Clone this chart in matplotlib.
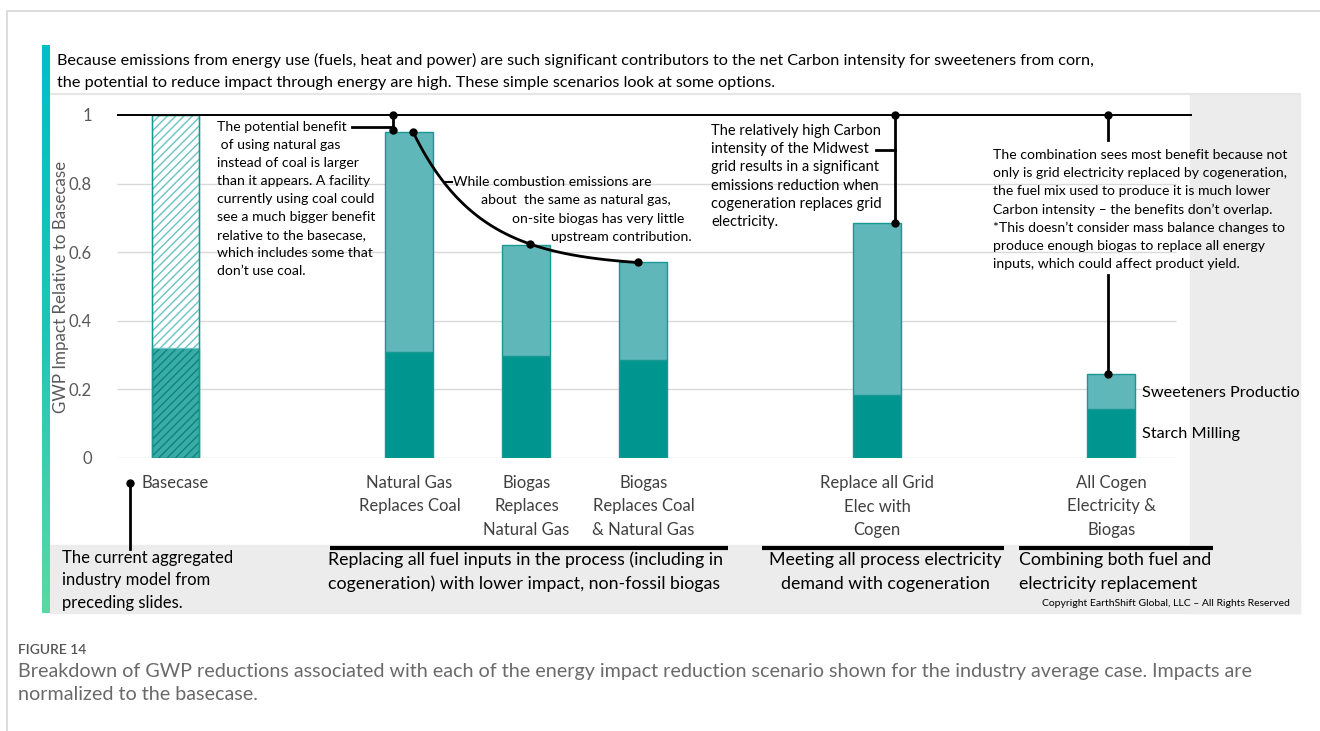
import numpy as np
import matplotlib
matplotlib.use("Agg")
import matplotlib.pyplot as plt
from matplotlib.patches import Rectangle
from matplotlib.lines import Line2D
from matplotlib.transforms import blended_transform_factory

plt.rcParams['font.family'] = ['Lato', 'DejaVu Sans']
plt.rcParams['hatch.linewidth'] = 1.0

# data: GWP impact relative to the basecase
scenarios = ["Basecase",
             "Natural Gas\nReplaces Coal",
             "Biogas\nReplaces\nNatural Gas",
             "Biogas\nReplaces Coal\n& Natural Gas",
             "Replace all Grid\nElec with\nCogen",
             "All Cogen\nElectricity &\nBiogas"]
positions = [0, 2, 3, 4, 6, 8]
starch_milling = [0.32, 0.31, 0.297, 0.286, 0.184, 0.142]
sweeteners_prod = [0.68, 0.641, 0.324, 0.284, 0.50, 0.103]
series_names = ["Starch Milling", "Sweeteners Productio"]
yticks = [0, 0.2, 0.4, 0.6, 0.8, 1]
ytick_labels = ["0", "0.2", "0.4", "0.6", "0.8", "1"]

header = ["Because emissions from energy use (fuels, heat and power) are such significant contributors to the net Carbon intensity for sweeteners from corn,",
          "the potential to reduce impact through energy are high. These simple scenarios look at some options."]
note_ng = ["The potential benefit", " of using natural gas", "instead of coal is larger", "than it appears. A facility",
           "currently using coal could", "see a much bigger benefit", "relative to the basecase,",
           "which includes some that", "don\u2019t use coal."]
note_bio = ["While combustion emissions are", "about  the same as natural gas,",
            "on-site biogas has very little", "upstream contribution."]
note_grid = ["The relatively high Carbon", "intensity of the Midwest", "grid results in a significant",
             "emissions reduction when", "cogeneration replaces grid", "electricity."]
note_comb = ["The combination sees most benefit because not", "only is grid electricity replaced by cogeneration,",
             "the fuel mix used to produce it is much lower", "Carbon intensity \u2013 the benefits don\u2019t overlap.",
             "*This doesn\u2019t consider mass balance changes to", "produce enough biogas to replace all energy",
             "inputs, which could affect product yield."]
group_text = [["The current aggregated", "industry model from", "preceding slides."],
              ["Replacing all fuel inputs in the process (including in", "cogeneration) with lower impact, non-fossil biogas"],
              ["Meeting all process electricity", "demand with cogeneration"],
              ["Combining both fuel and", "electricity replacement"]]

totals = [a + b for a, b in zip(starch_milling, sweeteners_prod)]

W, H = 1320, 731
fig = plt.figure(figsize=(W / 100, H / 100), dpi=100)


def fx(x):
    return x / W


def fy(y):
    return 1 - y / H


def block(lines, x, y0, dy, **kw):
    for i, s in enumerate(lines):
        fig.text(fx(x), fy(y0 + i * dy), s, va='center', **kw)


# page frame and slide background
fig.add_artist(Line2D([fx(7), fx(7), fx(1320)], [fy(731), fy(11), fy(11)], color='#D5D5D5', lw=1.2))
fig.add_artist(Rectangle((fx(1190), fy(613)), fx(110), (613 - 95) / H, color='#ECECEC', zorder=-5))
fig.add_artist(Rectangle((fx(50), fy(613)), fx(1250), (613 - 545) / H, color='#ECECEC', zorder=-5))
fig.add_artist(Line2D([fx(50), fx(1300)], [fy(94), fy(94)], color='#E6E6E6', lw=1.5, zorder=-4))

# teal gradient strip
gax = fig.add_axes([fx(42), fy(613), fx(8), (613 - 45) / H])
grad = np.linspace(0, 1, 256).reshape(-1, 1)
cmap = matplotlib.colors.LinearSegmentedColormap.from_list('strip', ['#00BFC8', '#1CC6B8', '#5DD8A4'])
gax.imshow(grad, aspect='auto', cmap=cmap)
gax.axis('off')

block(header, 57, 60, 23, fontsize=11.7, color='black')

# main chart
ax = fig.add_axes([fx(117), fy(458), fx(1192) - fx(117), (458 - 115) / H])
ax.patch.set_alpha(0)
ax.set_xlim(-0.5, 8.69)
ax.set_ylim(0, 1)
for s in ax.spines.values():
    s.set_visible(False)
ax.set_xticks([])
ax.set_yticks(yticks, ytick_labels)
ax.tick_params(axis='y', length=0, pad=18, labelsize=12, labelcolor='#595959')
ax.set_ylabel("GWP Impact Relative to Basecase", fontsize=12.2, color='#595959')
ax.yaxis.set_label_coords((69 - 117) / 1075, 0.5)

for y in yticks[:-1]:
    ax.hlines(y, -0.5, 8.55, color='#D9D9D9', lw=1, zorder=0)
ax.hlines(1, -0.5, 8.69, color='black', lw=1.4, zorder=3, clip_on=False)

light = '#60B7B9'
dark = '#009690'
edge = '#179893'
width = 0.41
# basecase hatched
ax.bar(positions[0], starch_milling[0], width, facecolor='#3AABA6', edgecolor='#0A857F',
       hatch='////', lw=1, zorder=2)
ax.bar(positions[0], sweeteners_prod[0], width, bottom=starch_milling[0], facecolor='white',
       edgecolor='#6CC2C2', hatch='////', lw=1, zorder=2)
ax.bar(positions[0], totals[0], width, facecolor='none', edgecolor=edge, lw=1, zorder=2)
ax.bar(positions[1:], starch_milling[1:], width, color=dark, edgecolor=edge, lw=1, zorder=2)
ax.bar(positions[1:], sweeteners_prod[1:], width, bottom=starch_milling[1:], color=light,
       edgecolor=edge, lw=1, zorder=2)

# series labels next to last bar
ax.text(positions[-1] + 0.26, starch_milling[-1] + sweeteners_prod[-1] / 2 - 0.005, series_names[1],
        fontsize=11.7, va='center', ha='left', clip_on=False)
ax.text(positions[-1] + 0.26, starch_milling[-1] / 2, series_names[0],
        fontsize=11.7, va='center', ha='left', clip_on=False)

# scenario labels under the bars
bt = blended_transform_factory(ax.transData, fig.transFigure)
for p, lab in zip(positions, scenarios):
    for i, s in enumerate(lab.split("\n")):
        ax.text(p, fy(483 + i * 23.5), s, transform=bt, ha='center', va='center',
                fontsize=12, color='#404040')

# basecase pointer
ax.plot([-0.385, -0.385], [fy(483), fy(549)], transform=bt, color='black', lw=2, clip_on=False)
ax.plot([-0.385], [fy(483)], 'o', transform=bt, color='black', ms=5, clip_on=False)

# group underlines
for x0, x1 in [(positions[1] - 0.68, positions[3] + 0.72), (positions[4] - 0.99, positions[4] + 1.08),
               (positions[5] - 0.79, positions[5] + 0.87)]:
    ax.plot([x0, x1], [fy(548), fy(548)], transform=bt, color='black', lw=3, clip_on=False,
            solid_capstyle='butt')

block(group_text[0], 62, 558, 22.5, fontsize=12, color='black')
block(group_text[1], 328, 560, 24, fontsize=12.8, color='black')
block(group_text[2], 885, 560, 24, fontsize=12.8, color='black', ha='center')
block(group_text[3], 1019, 560, 24, fontsize=12.8, color='black')
fig.text(fx(1290), fy(604), "Copyright EarthShift Global, LLC \u2013 All Rights Reserved", fontsize=7.5,
         ha='right', va='center', color='black')

# annotation: natural gas bracket
kw = dict(color='black', lw=2, clip_on=False, zorder=4)
ax.plot([1.51, 1.86], [0.965, 0.965], **kw)
ax.plot([1.86, 1.86], [1.0, totals[1] + 0.005], **kw)
ax.plot([1.86, 1.86], [1.0, totals[1] + 0.005], 'o', color='black', ms=5, clip_on=False, zorder=5)
block(note_ng, 217, 127, 18.05, fontsize=10.1, color='black')

# annotation: biogas curve through bar tops
xa, xb, xc = 2.03, 3.03, 3.95
ya, yb, yc = totals[1], totals[2] + 0.003, totals[3]
ratio = (ya - yc) / (ya - yb)
lo, hi = 0.001, 0.999
for _ in range(60):
    r = (lo + hi) / 2
    val = (1 - r ** ((xc - xa) / (xb - xa))) / (1 - r)
    if val > ratio:
        hi = r
    else:
        lo = r
k = -np.log(r) / (xb - xa)
b = (ya - yb) / (1 - r)
a = ya - b
xs = np.linspace(xa, xc, 100)
ax.plot(xs, a + b * np.exp(-k * (xs - xa)), **kw)
ax.plot([xa, xb, xc], [ya, yb, yc], 'o', color='black', ms=5, clip_on=False, zorder=5)
fig.add_artist(Line2D([fx(444), fx(452)], [fy(182), fy(182)], color='black', lw=1.5))
for s, x, y in zip(note_bio, [453, 481, 512, 551], [182, 200, 219, 237]):
    fig.text(fx(x), fy(y), s, fontsize=10.1, va='center', color='black')

# annotation: grid electricity
ax.plot([6.15, 6.15], [1.0, totals[4]], **kw)
ax.plot([5.99, 6.15], [0.898, 0.898], **kw)
ax.plot([6.15, 6.15], [1.0, totals[4]], 'o', color='black', ms=5, clip_on=False, zorder=5)
block(note_grid, 711, 131, 18.2, fontsize=10.5, color='black')

# annotation: combination
ax.plot([7.97, 7.97], [1.0, 0.927], **kw)
ax.plot([7.97, 7.97], [0.534, totals[5]], **kw)
ax.plot([7.97, 7.97], [1.0, totals[5]], 'o', color='black', ms=5, clip_on=False, zorder=5)
block(note_comb, 993, 155, 18.2, fontsize=10.1, color='black')

# caption
fig.text(fx(18), fy(650), "FIGURE 14", fontsize=10, color='#555555', va='center', fontweight='semibold')
block(["Breakdown of GWP reductions associated with each of the energy impact reduction scenario shown for the industry average case. Impacts are",
       "normalized to the basecase."], 18, 672, 22.5, fontsize=14.2, color='#6A6A6A')

fig.savefig("out.png", dpi=100)
